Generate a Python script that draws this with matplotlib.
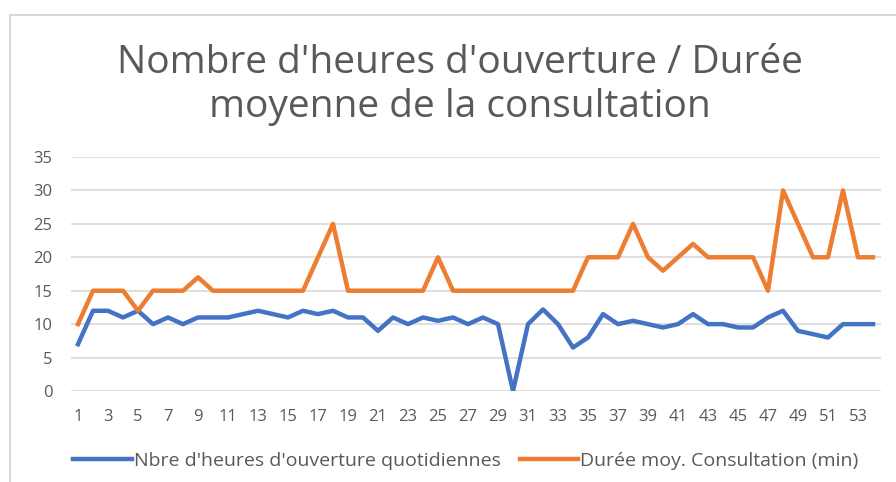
import matplotlib
matplotlib.use("Agg")
import matplotlib.pyplot as plt
from matplotlib.patches import Rectangle

plt.rcParams['font.family'] = ['Open Sans', 'DejaVu Sans']

semaines = list(range(1, 55))
heures = [7, 12, 12, 11, 12, 10, 11, 10, 11, 11,
          11, 11.5, 12, 11.5, 11, 12, 11.5, 12, 11, 11,
          9, 11, 10, 11, 10.5, 11, 10, 11, 10, 0,
          10, 12.2, 10, 6.5, 8, 11.5, 10, 10.5, 10, 9.5,
          10, 11.5, 10, 10, 9.5, 9.5, 11, 12, 9, 8.5,
          8, 10, 10, 10]
duree = [10, 15, 15, 15, 12, 15, 15, 15, 17, 15,
         15, 15, 15, 15, 15, 15, 20, 25, 15, 15,
         15, 15, 15, 15, 20, 15, 15, 15, 15, 15,
         15, 15, 15, 15, 20, 20, 20, 25, 20, 18,
         20, 22, 20, 20, 20, 20, 15, 30, 25, 20,
         20, 30, 20, 20]
yticks = [0, 5, 10, 15, 20, 25, 30, 35]

gris = "#595959"
fig = plt.figure(figsize=(8.96, 4.82), dpi=100)

# cadre du graphique
fig.patches.append(Rectangle((10 / 896, -0.1), 1.2, (482 - 15) / 482 + 0.1,
                             transform=fig.transFigure, fill=False,
                             edgecolor="#d9d9d9", linewidth=1.5))

ax = fig.add_axes([70.5 / 896, 91 / 482, 810 / 896, 234 / 482])
ax.plot(semaines, heures, color="#4472C4", linewidth=3.2,
        label="Nbre d'heures d'ouverture quotidiennes", solid_joinstyle="round")
ax.plot(semaines, duree, color="#ED7D31", linewidth=3.2,
        label="Durée moy. Consultation (min)", solid_joinstyle="round")

ax.set_xlim(0.5, 54.5)
ax.set_ylim(0, 35)
ax.set_yticks(yticks)
ax.set_xticks(semaines[::2])
ax.grid(axis="y", color="#d9d9d9", linewidth=1.2)
ax.set_axisbelow(True)
for s in ax.spines.values():
    s.set_visible(False)
ax.tick_params(length=0, colors=gris, labelsize=12)
ax.tick_params(axis="x", pad=13)
ax.tick_params(axis="y", pad=13)

fig.text(0.513, 1 - 117 / 482, "Nombre d'heures d'ouverture / Durée\nmoyenne de la consultation",
         ha="center", va="baseline", fontsize=28, color=gris, linespacing=1.2)

fig.legend(loc="center", bbox_to_anchor=(466 / 896, 1 - 461 / 482), ncol=2,
           frameon=False, fontsize=14, labelcolor=gris, handlelength=3.0,
           handletextpad=0.1, columnspacing=1.0)

fig.savefig("out.png", dpi=100)
